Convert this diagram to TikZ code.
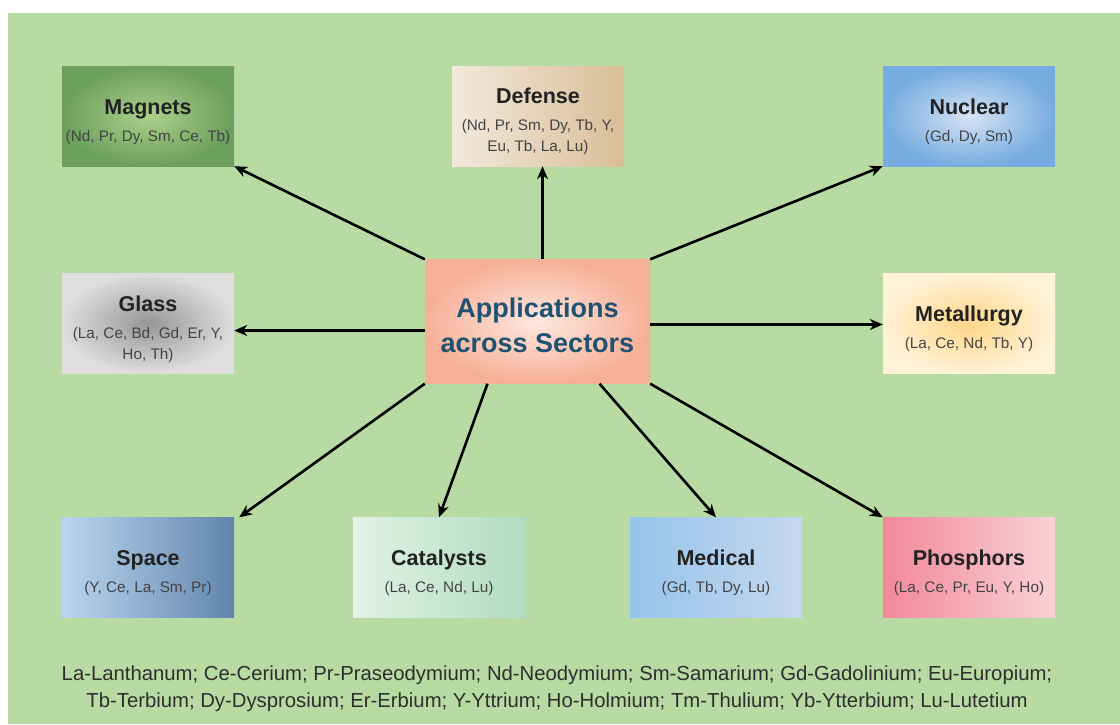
\documentclass[tikz,border=0pt]{standalone}
\usepackage{fontspec}
\setmainfont{Liberation Sans}
\usetikzlibrary{arrows.meta}
\definecolor{bggreen}{HTML}{B8DBA4}
\definecolor{titletext}{HTML}{222222}
\definecolor{subtext}{HTML}{444444}
\definecolor{hubtext}{HTML}{1E5270}
\definecolor{foottext}{HTML}{2E2E2E}
\tikzset{
  sector/.style={minimum width=172pt, minimum height=100pt, inner sep=0pt,
    align=center, text=subtext, font=\fontsize{15.3}{21}\selectfont},
  link/.style={line width=2.6pt, -{Stealth[length=13pt,width=11pt]}},
}
% bold sector name with a strut that lowers the text block a little
\newcommand{\sectitle}[1]{{\color{titletext}\fontsize{21.5}{22}\selectfont\bfseries\rule{0pt}{27pt}#1}\\[6pt]}
\begin{document}
\begin{tikzpicture}[x=1pt,y=-1pt]
\useasboundingbox (0,0) rectangle (1120,724);
\fill[bggreen] (8,13) rectangle (1120,724);

% central hub
\node[minimum width=225pt, minimum height=124pt, inner sep=0pt, align=center,
  shading=radial, inner color={rgb,255:red,253;green,232;blue,224},
  outer color={rgb,255:red,247;green,176;blue,152},
  text=hubtext, font=\fontsize{27}{35}\selectfont\bfseries]
  (hub) at (537.5,321.5) {\rule{0pt}{28pt}Applications\\across Sectors};

% top row
\node[sector, shading=radial, inner color={rgb,255:red,171;green,208;blue,140},
  outer color={rgb,255:red,108;green,160;blue,92}]
  (mag) at (148,116) {\sectitle{Magnets}(Nd, Pr, Dy, Sm, Ce, Tb)};
\node[sector, left color={rgb,255:red,242;green,233;blue,219},
  right color={rgb,255:red,216;green,190;blue,152}]
  (def) at (538,116) {\sectitle{Defense}(Nd, Pr, Sm, Dy, Tb, Y,\\Eu, Tb, La, Lu)};
\node[sector, shading=radial, inner color={rgb,255:red,214;green,227;blue,245},
  outer color={rgb,255:red,118;green,172;blue,224}]
  (nuc) at (969,116) {\sectitle{Nuclear}(Gd, Dy, Sm)};

% middle row
\node[sector, shading=radial, inner color={rgb,255:red,150;green,150;blue,150},
  outer color={rgb,255:red,222;green,222;blue,222}]
  (gla) at (148,323.5) {\sectitle{Glass}(La, Ce, Bd, Gd, Er, Y,\\Ho, Th)};
\node[sector, shading=radial, inner color={rgb,255:red,253;green,214;blue,136},
  outer color={rgb,255:red,255;green,242;blue,214}]
  (met) at (969,323.5) {\sectitle{Metallurgy}(La, Ce, Nd, Tb, Y)};

% bottom row
\node[sector, left color={rgb,255:red,186;green,214;blue,240},
  right color={rgb,255:red,98;green,133;blue,172}]
  (spa) at (148,567.5) {\sectitle{Space}(Y, Ce, La, Sm, Pr)};
\node[sector, left color={rgb,255:red,226;green,242;blue,230},
  right color={rgb,255:red,176;green,220;blue,192}]
  (cat) at (439,567.5) {\sectitle{Catalysts}(La, Ce, Nd, Lu)};
\node[sector, left color={rgb,255:red,150;green,196;blue,234},
  right color={rgb,255:red,198;green,216;blue,239}]
  (med) at (716,567.5) {\sectitle{Medical}(Gd, Tb, Dy, Lu)};
\node[sector, left color={rgb,255:red,242;green,136;blue,154},
  right color={rgb,255:red,249;green,210;blue,214}]
  (pho) at (969,567.5) {\sectitle{Phosphors}(La, Ce, Pr, Eu, Y, Ho)};

% connectors from the hub
\draw[link] (hub.north west) -- (mag.south east);
\draw[link] ([xshift=5pt]hub.north) -- ([xshift=5pt]hub.north |- def.south);
\draw[link] (hub.north east) -- (nuc.south west);
\draw[link] ([yshift=-9pt]hub.west) -- ([yshift=-9pt]hub.west -| gla.east);
\draw[link] ([yshift=-3pt]hub.east) -- ([yshift=-3pt]hub.east -| met.west);
\draw[link] (hub.south west) -- ([xshift=5pt]spa.north east);
\draw[link] ([xshift=-50pt]hub.south) -- (cat.north);
\draw[link] ([xshift=62pt]hub.south) -- (med.north);
\draw[link] (hub.south east) -- (pho.north west);

% element key
\node[align=center, text=foottext, font=\fontsize{20.3}{27}\selectfont]
  (key) at (557,688.5)
  {La-Lanthanum; Ce-Cerium; Pr-Praseodymium; Nd-Neodymium; Sm-Samarium; Gd-Gadolinium; Eu-Europium;\\
   Tb-Terbium; Dy-Dysprosium; Er-Erbium; Y-Yttrium; Ho-Holmium; Tm-Thulium; Yb-Ytterbium; Lu-Lutetium};
\end{tikzpicture}
\end{document}
